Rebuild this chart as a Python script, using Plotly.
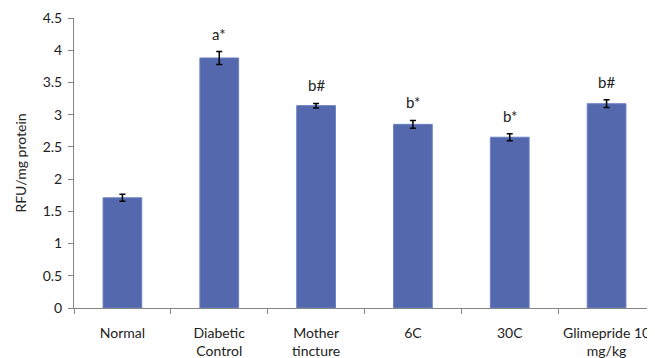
import plotly.graph_objects as go

categories = ["Normal", "Diabetic<br>Control", "Mother<br>tincture", "6C", "30C", "Glimepride 10<br>mg/kg"]
values = [1.71, 3.88, 3.14, 2.85, 2.65, 3.17]
errors = [0.055, 0.10, 0.035, 0.06, 0.055, 0.06]
labels = ["", "a*", "b#", "b*", "b*", "b#"]
y_ticks = [0, 0.5, 1, 1.5, 2, 2.5, 3, 3.5, 4, 4.5]

FONT = "Lato"
fig = go.Figure()
fig.add_trace(go.Bar(
    x=categories, y=values,
    marker=dict(color="#5468AE", line=dict(color="#6C80C4", width=1)),
    error_y=dict(type="data", array=errors, visible=True, color="black", thickness=1.5, width=3),
))
for c, v, e, t in zip(categories, values, errors, labels):
    if t:
        fig.add_annotation(x=c, y=v + e, text=t, showarrow=False, yanchor="bottom", yshift=7,
                           font=dict(family=FONT, size=15, color="#222"))
# page body has an 8px margin, so the figure is sized to the visible area
fig.update_layout(
    width=647, height=350,
    margin=dict(l=66, r=0, t=10, b=50),
    plot_bgcolor="white", paper_bgcolor="white",
    bargap=0.6, showlegend=False,
    font=dict(family=FONT, size=14, color="#222"),
)
fig.update_xaxes(showline=True, linecolor="#868686", linewidth=1, ticks="outside", tickson="boundaries",
                 ticklen=5, tickcolor="#868686", tickfont=dict(size=14), automargin=False,
                 ticklabelstandoff=12, ticklabeloverflow="allow")
fig.update_yaxes(range=[0, 4.5], tickvals=y_ticks, ticktext=[f"{t:g}" for t in y_ticks],
                 showline=True, linecolor="#868686", linewidth=1, ticks="outside", ticklen=5,
                 tickcolor="#868686", showgrid=False, zeroline=False, tickfont=dict(size=14),
                 automargin=False, ticklabelstandoff=3,
                 title=dict(text="RFU/mg protein", font=dict(size=14), standoff=12))
fig.write_html("out.html")
